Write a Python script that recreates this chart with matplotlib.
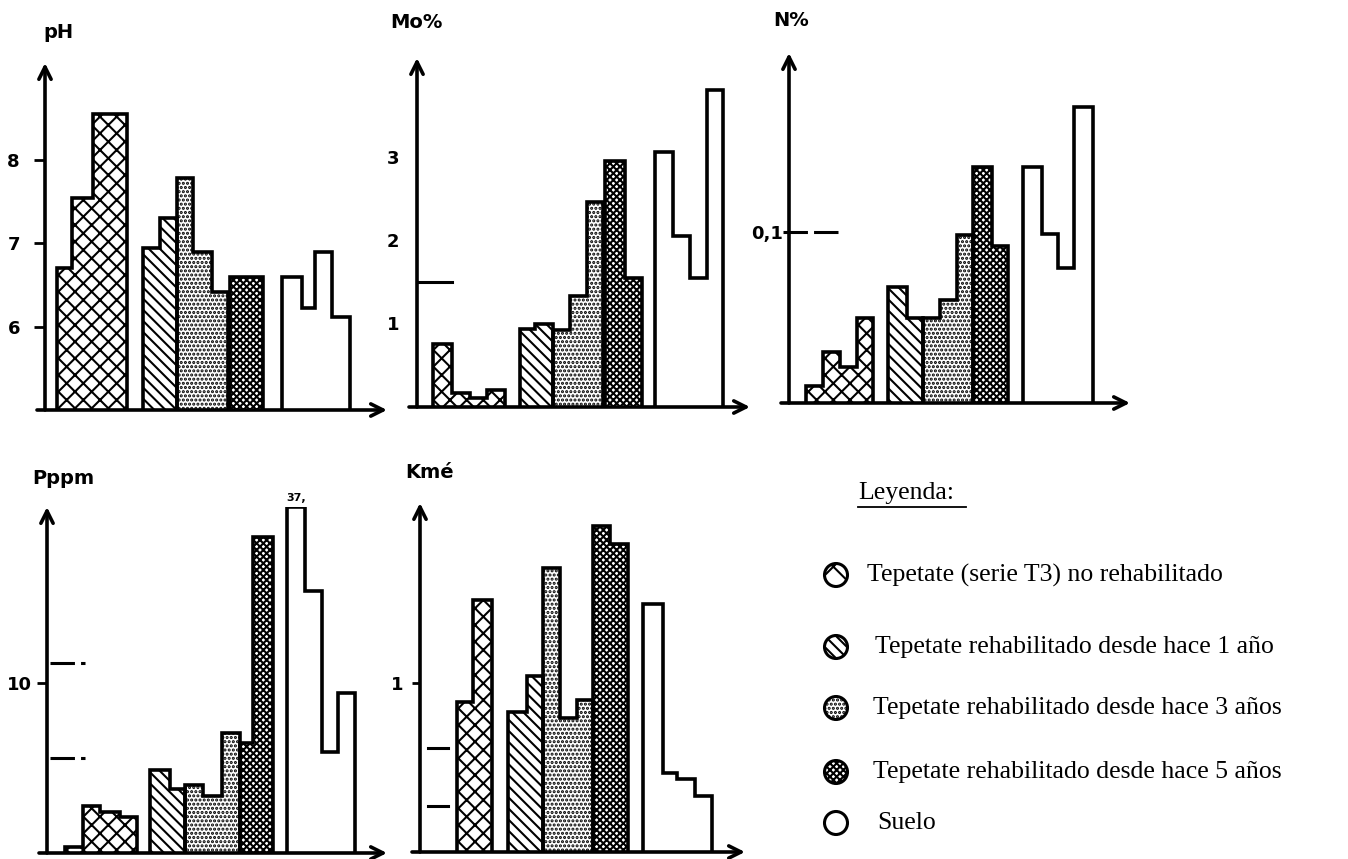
import numpy as np
import matplotlib
matplotlib.use("Agg")
import matplotlib.pyplot as plt
from matplotlib.patches import Circle

# ---------------- data ----------------
series = ["Tepetate (serie T3) no rehabilitado",
          "Tepetate rehabilitado desde hace 1 año",
          "Tepetate rehabilitado desde hace 3 años",
          "Tepetate rehabilitado desde hace 5 años",
          "Suelo"]

ph_t3 = [6.70, 7.55, 8.55]
ph_r1 = [6.95, 7.30]
ph_r3 = [7.78, 6.90, 6.42]
ph_r5 = [6.60, 6.60]
ph_suelo = [6.60, 6.22, 6.90, 6.12]

mo_t3 = [0.75, 0.17, 0.11, 0.20]
mo_r1 = [0.93, 0.99]
mo_r3 = [0.92, 1.33, 2.45]
mo_r5 = [2.95, 1.55]
mo_suelo = [3.05, 2.05, 1.55, 3.80]

n_t3 = [0.010, 0.030, 0.021, 0.050]
n_r1 = [0.068, 0.050]
n_r3 = [0.050, 0.060, 0.098]
n_r5 = [0.138, 0.092]
n_suelo = [0.138, 0.099, 0.079, 0.173]

p_t3 = [0.35, 2.75, 2.40, 2.10]
p_r1 = [4.90, 3.75]
p_r3 = [4.00, 3.35, 7.05]
p_r5 = [6.50, 18.6]
p_suelo = [37.0, 15.4, 5.95, 9.40]

k_t3 = [0.89, 1.49]
k_r1 = [0.83, 1.04]
k_r3 = [1.68, 0.79, 0.90]
k_r5 = [1.93, 1.82]
k_suelo = [1.47, 0.47, 0.43, 0.33]

titles = ["pH", "Mo%", "N%", "Pppm", "Kmé"]
ph_ticks, ph_ticklabels = [6, 7, 8], ["6", "7", "8"]
mo_ticks, mo_ticklabels = [1, 2, 3], ["1", "2", "3"]
n_ticks, n_ticklabels = [0.1], ["0,1"]
p_ticks, p_ticklabels = [10], ["10"]
k_ticks, k_ticklabels = [1], ["1"]

mo_ref = [1.5]
n_ref = [0.1]
p_ref = [11.2, 5.6]
k_ref = [0.615, 0.27]
p_clip_label = "37,"

# ---------------- layout (pixels) ----------------
W, H = 1348, 859
plt.rcParams["hatch.color"] = "black"
plt.rcParams["hatch.linewidth"] = 1.5

hatches = ["xx", "\\\\\\", "....", "xxxxx", ""]
AXFONT = dict(family="DejaVu Sans", fontweight="bold", fontsize=13)

fig = plt.figure(figsize=(W / 100, H / 100), dpi=100)
over = fig.add_axes([0, 0, 1, 1])
over.set_xlim(0, W)
over.set_ylim(H, 0)
over.axis("off")

panels = [
    dict(data=[ph_t3, ph_r1, ph_r3, ph_r5, ph_suelo],
         edges=[[57, 72, 93, 127], [143, 160, 177], [177, 193, 212, 228],
                [230, 246, 263], [282, 302, 315, 332, 350]],
         ax_x=45, x_end=387, base=410, top=63, y0=5, scale=83.3,
         ticks=ph_ticks, tl=ph_ticklabels, tlen=8, pad=10,
         title_xy=(43, 32), refs=[], ref_x=None, ref_style=None),
    dict(data=[mo_t3, mo_r1, mo_r3, mo_r5, mo_suelo],
         edges=[[433, 452, 470, 487, 505], [520, 535, 553], [553, 570, 587, 603],
                [605, 625, 642], [655, 673, 690, 707, 723]],
         ax_x=417, x_end=750, base=407, top=58, y0=0, scale=83.5,
         ticks=mo_ticks, tl=mo_ticklabels, tlen=0, pad=13,
         title_xy=(390, 23), refs=mo_ref, ref_x=(417, 452), ref_style="-"),
    dict(data=[n_t3, n_r1, n_r3, n_r5, n_suelo],
         edges=[[806, 823, 840, 857, 873], [888, 907, 923], [923, 940, 957, 973],
                [973, 992, 1008], [1023, 1042, 1058, 1074, 1093]],
         ax_x=789, x_end=1130, base=403, top=53, y0=0, scale=1710,
         ticks=n_ticks, tl=n_ticklabels, tlen=0, pad=4,
         title_xy=(773, 20), refs=n_ref, ref_x=(783, 840), ref_style="--"),
    dict(data=[p_t3, p_r1, p_r3, p_r5, p_suelo],
         edges=[[65, 83, 100, 120, 137], [150, 170, 185], [185, 203, 222, 240],
                [240, 253, 273], [287, 305, 322, 338, 355]],
         ax_x=47, x_end=387, base=853, top=507, y0=0, scale=17.0,
         ticks=p_ticks, tl=p_ticklabels, tlen=7, pad=4,
         title_xy=(32, 478), refs=p_ref, ref_x=(50, 85), ref_style="--"),
    dict(data=[k_t3, k_r1, k_r3, k_r5, k_suelo],
         edges=[[457, 473, 492], [508, 527, 543], [543, 560, 577, 593],
                [593, 610, 628], [643, 663, 677, 695, 712]],
         ax_x=420, x_end=745, base=852, top=503, y0=0, scale=169.0,
         ticks=k_ticks, tl=k_ticklabels, tlen=6, pad=6,
         title_xy=(405, 473), refs=k_ref, ref_x=(428, 448), ref_style="-"),
]

for i, p in enumerate(panels):
    ytop = p["y0"] + (p["base"] - p["top"]) / p["scale"]
    ax = fig.add_axes([p["ax_x"] / W, 1 - p["base"] / H,
                       (p["x_end"] - p["ax_x"]) / W, (p["base"] - p["top"]) / H])
    ax.set_xlim(p["ax_x"], p["x_end"])
    ax.set_ylim(p["y0"], ytop)
    ax.patch.set_visible(False)
    for s in ax.spines.values():
        s.set_visible(False)
    ax.set_xticks([])
    ax.set_yticks(p["ticks"])
    ax.set_yticklabels(p["tl"], **AXFONT)
    ax.tick_params(axis="y", direction="out", length=p["tlen"], width=2,
                   pad=p["pad"], colors="black")
    # axes with arrows
    ax.annotate("", xy=(p["ax_x"], ytop), xytext=(p["ax_x"], p["y0"]),
                arrowprops=dict(arrowstyle="->", lw=2.6, color="black",
                                mutation_scale=22, shrinkA=0, shrinkB=0),
                annotation_clip=False)
    ax.annotate("", xy=(p["x_end"], p["y0"]), xytext=(p["ax_x"] - 8, p["y0"]),
                arrowprops=dict(arrowstyle="->", lw=2.6, color="black",
                                mutation_scale=22, shrinkA=0, shrinkB=0),
                annotation_clip=False)
    # bars
    for g, (vals, edges) in enumerate(zip(p["data"], p["edges"])):
        vals = np.minimum(np.asarray(vals, float), ytop)
        edges = np.asarray(edges, float)
        ax.bar(edges[:-1], vals - p["y0"], width=np.diff(edges), bottom=p["y0"],
               align="edge", color="white", hatch=hatches[g], edgecolor="black",
               linewidth=0, zorder=2)
        ax.stairs(vals, edges, baseline=p["y0"], color="black", lw=2.6, zorder=3)
    # reference marks
    for r in p["refs"]:
        ax.plot(p["ref_x"], [r, r], color="black", lw=2.2,
                linestyle="-" if p["ref_style"] == "-" else (0, (8, 2)),
                clip_on=False, zorder=4)
    over.text(p["title_xy"][0], p["title_xy"][1], titles[i], ha="left", va="center",
              family="DejaVu Sans", fontweight="bold", fontsize=14)

# clipped value label on Pppm
pp = panels[3]
over.text((pp["edges"][4][0] + pp["edges"][4][1]) / 2, 498, p_clip_label,
          ha="center", va="center", family="DejaVu Sans", fontweight="bold", fontsize=8)

# ---------------- legend ----------------
SERIF = dict(family="Liberation Serif", fontsize=18.5, color="black")
over.text(858, 493, "Leyenda:", ha="left", va="center", **SERIF)
over.plot([858, 966], [507, 507], color="black", lw=1.3)
leg_y = [575, 647, 708, 772, 823]
leg_tx = [867, 875, 873, 873, 877]
leg_hatch = ["x", "\\\\\\", "....", "xxxxx", ""]
for j, name in enumerate(series):
    c = Circle((836, leg_y[j]), 11.5, facecolor="white", edgecolor="black",
               lw=2.2, hatch=leg_hatch[j])
    over.add_patch(c)
    over.text(leg_tx[j], leg_y[j], name, ha="left", va="center", **SERIF)

fig.savefig("out.png", dpi=100)
